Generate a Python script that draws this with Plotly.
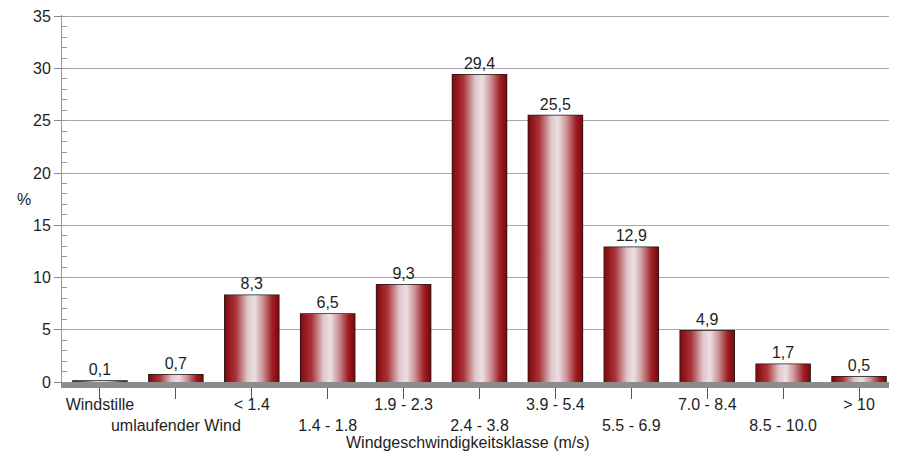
import plotly.graph_objects as go

categories = ["Windstille", "umlaufender Wind", "< 1.4", "1.4 - 1.8", "1.9 - 2.3",
              "2.4 - 3.8", "3.9 - 5.4", "5.5 - 6.9", "7.0 - 8.4", "8.5 - 10.0", "> 10"]
values = [0.1, 0.7, 8.3, 6.5, 9.3, 29.4, 25.5, 12.9, 4.9, 1.7, 0.5]
y_ticks = [0, 5, 10, 15, 20, 25, 30, 35]

FONT = "Liberation Sans, Arial, sans-serif"
TXT = "#1e1e1e"
BW = 0.71
xpos = list(range(len(categories)))

gradient = [[0.0, "rgb(132,8,14)"], [0.2, "rgb(170,50,56)"], [0.42, "rgb(222,198,201)"],
            [0.55, "rgb(236,224,226)"], [0.7, "rgb(205,150,154)"], [0.88, "rgb(158,30,36)"],
            [1.0, "rgb(128,6,12)"]]

fig = go.Figure()
for xi, v in zip(xpos, values):
    fig.add_trace(go.Scatter(
        x=[xi - BW / 2, xi - BW / 2, xi + BW / 2, xi + BW / 2, xi - BW / 2],
        y=[0, v, v, 0, 0],
        mode="lines", line=dict(width=0), fill="toself",
        fillgradient=dict(type="horizontal", colorscale=gradient),
        hoverinfo="skip", showlegend=False,
    ))
fig.add_trace(go.Bar(
    x=xpos, y=values, width=BW,
    marker=dict(color="rgba(0,0,0,0)", line=dict(color="#1a1a1a", width=1.6)),
    texttemplate="%{y:.1f}", textposition="outside", cliponaxis=False,
    textfont=dict(family=FONT, size=16, color=TXT),
    showlegend=False,
))

ticktext = [c if i % 2 == 0 else "<br>" + c for i, c in enumerate(categories)]

fig.update_layout(
    width=897, height=455,
    margin=dict(l=54, r=8, t=7, b=81),
    plot_bgcolor="white", paper_bgcolor="white",
    separators=",.",
    font=dict(family=FONT, size=16, color=TXT),
    xaxis=dict(
        range=[-0.5, 10.5], tickmode="array", tickvals=xpos, ticktext=ticktext,
        tickangle=0, automargin=False,
        ticks="outside", ticklen=11, tickcolor="#555", tickwidth=1,
        ticklabelstandoff=-8,
        showline=True, linecolor="#8c8c8c", linewidth=6,
        showgrid=False, zeroline=False, tickfont=dict(size=16, color=TXT),
        fixedrange=True,
    ),
    yaxis=dict(
        range=[0, 35.12], tickmode="array", tickvals=y_ticks, automargin=False,
        ticklabeloverflow="allow",
        ticks="outside", ticklen=7, tickcolor="#888",
        showline=True, linecolor="#999", linewidth=1,
        showgrid=True, gridcolor="#a8a8a8", gridwidth=1, zeroline=False,
        minor=dict(dtick=1, ticks="inside", ticklen=5, tickcolor="#999", showgrid=False),
        tickfont=dict(size=16, color=TXT),
    ),
    annotations=[
        dict(text="%", xref="paper", yref="paper", x=-0.056, y=0.497,
             showarrow=False, font=dict(size=16, color=TXT)),
        dict(text="Windgeschwindigkeitsklasse (m/s)", xref="paper", yref="paper",
             x=0.486, y=-0.166, xanchor="center", yanchor="middle",
             showarrow=False, font=dict(size=16, color=TXT)),
    ],
)

fig.write_html("out.html")
